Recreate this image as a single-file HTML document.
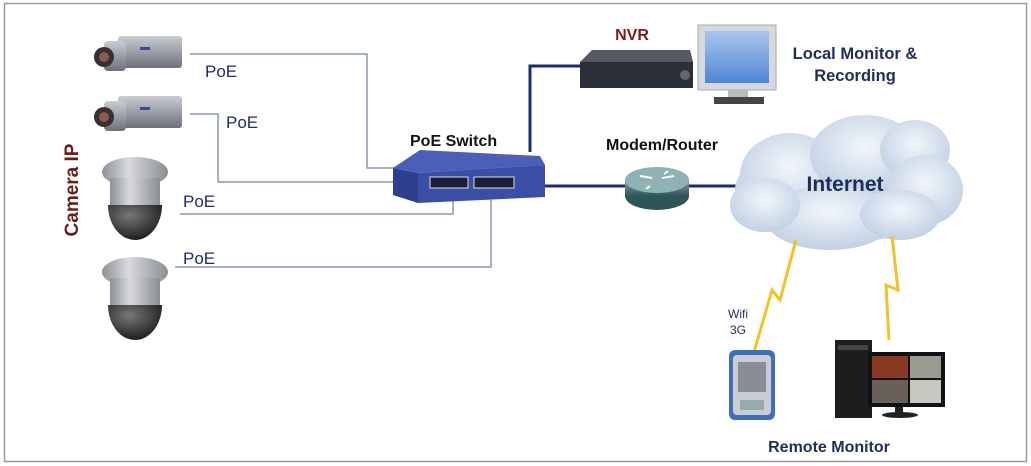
<!DOCTYPE html>
<html><head><meta charset="utf-8"><style>
html,body{margin:0;padding:0;background:#fff;}
svg{display:block;font-family:"Liberation Sans",Arial,sans-serif;}
</style></head><body>
<svg width="1031" height="466" viewBox="0 0 1031 466" xmlns="http://www.w3.org/2000/svg">
<defs>
<linearGradient id="cam" x1="0" y1="0" x2="0" y2="1"><stop offset="0" stop-color="#c9ccd2"/><stop offset="0.5" stop-color="#9a9ea6"/><stop offset="1" stop-color="#6d7078"/></linearGradient>
<linearGradient id="dome" x1="0" y1="0" x2="1" y2="0"><stop offset="0" stop-color="#8d9096"/><stop offset="0.4" stop-color="#d8dade"/><stop offset="1" stop-color="#8a8d93"/></linearGradient>
<radialGradient id="glass" cx="0.4" cy="0.3" r="0.8"><stop offset="0" stop-color="#777"/><stop offset="1" stop-color="#111"/></radialGradient>
<radialGradient id="cloud" cx="0.5" cy="0.4" r="0.7"><stop offset="0" stop-color="#f2f6fb"/><stop offset="1" stop-color="#b9cadf"/></radialGradient>
<linearGradient id="mon" x1="0" y1="0" x2="0" y2="1"><stop offset="0" stop-color="#a9c6ec"/><stop offset="1" stop-color="#4f86d6"/></linearGradient>
<linearGradient id="rt" x1="0" y1="0" x2="0" y2="1"><stop offset="0" stop-color="#7fa4a6"/><stop offset="1" stop-color="#2f5558"/></linearGradient>
</defs>
<rect x="4.5" y="3.5" width="1022" height="458" fill="#fff" stroke="#999" stroke-width="1.5"/>

<g fill="none" stroke="#8a9ab0" stroke-width="1.5">
<polyline points="190,54 367,54 367,168 398,168"/>
<polyline points="190,114 218,114 218,182 398,182"/>
<polyline points="180,214 453,214 453,195"/>
<polyline points="175,267 491,267 491,200"/>
</g>
<g font-size="17" fill="#1e2d6b">
<text x="205" y="77">PoE</text>
<text x="226" y="128">PoE</text>
<text x="183" y="207">PoE</text>
<text x="183" y="264">PoE</text>
</g>
<text transform="translate(78,190) rotate(-90)" text-anchor="middle" font-size="19" font-weight="bold" fill="#6b1c1c">Camera IP</text>

<g id="c1">
<rect x="118" y="36" width="64" height="32" rx="3" fill="url(#cam)"/>
<rect x="104" y="41" width="22" height="30" rx="4" fill="url(#cam)"/>
<circle cx="104" cy="57" r="10" fill="#3a3030"/><circle cx="104" cy="57" r="5" fill="#8a5a50"/>
<rect x="140" y="47" width="10" height="3" fill="#3a4a9a"/>
</g>
<use href="#c1" y="60"/>
<g id="d1">
<ellipse cx="135" cy="172" rx="33" ry="15" fill="url(#dome)"/>
<rect x="110" y="178" width="50" height="30" fill="url(#dome)"/>
<path d="M108,205 A27,35 0 0 0 162,205 Z" fill="url(#glass)"/>
</g>
<use href="#d1" y="100"/>

<polygon points="393,168 420,150 540,156 545,165 418,173" fill="#4a5fb5"/>
<polygon points="393,168 418,173 418,203 393,195" fill="#2f3f90"/>
<polygon points="418,173 545,165 545,197 418,203" fill="#3b4ea6"/>
<rect x="430" y="177" width="38" height="11" fill="#1a1f3a" stroke="#ddd" stroke-width="1"/>
<rect x="474" y="177" width="40" height="11" fill="#1a1f3a" stroke="#ddd" stroke-width="1"/>
<text x="410" y="146" font-size="16" font-weight="bold" fill="#111">PoE Switch</text>

<g fill="none" stroke="#1c2d6e" stroke-width="3">
<polyline points="530,152 530,66 582,66"/>
<line x1="545" y1="186" x2="627" y2="186"/>
<line x1="688" y1="186" x2="738" y2="186"/>
</g>

<polygon points="580,62 592,50 690,50 693,62" fill="#555a62"/>
<rect x="580" y="62" width="113" height="26" fill="#2b2f36"/>
<circle cx="685" cy="75" r="5" fill="#666"/>
<text x="632" y="40" text-anchor="middle" font-size="16" font-weight="bold" fill="#7a1c1c">NVR</text>

<rect x="698" y="25" width="78" height="65" fill="#d6d8de" stroke="#aaa"/>
<rect x="705" y="31" width="64" height="52" fill="url(#mon)"/>
<rect x="728" y="90" width="20" height="7" fill="#bbb"/>
<rect x="714" y="97" width="50" height="7" fill="#444"/>
<text x="855" y="59" text-anchor="middle" font-size="16.5" font-weight="bold" fill="#1e2d5a">Local Monitor &amp;</text>
<text x="855" y="81" text-anchor="middle" font-size="16.5" font-weight="bold" fill="#1e2d5a">Recording</text>

<text x="662" y="150" text-anchor="middle" font-size="16" font-weight="bold" fill="#111">Modem/Router</text>
<ellipse cx="657" cy="196" rx="32" ry="14" fill="#2f5558"/>
<rect x="625" y="180" width="64" height="16" fill="url(#rt)"/>
<ellipse cx="657" cy="180" rx="32" ry="13" fill="#8fb3b5"/>
<g stroke="#fff" stroke-width="2"><line x1="640" y1="176" x2="652" y2="178"/><line x1="662" y1="178" x2="674" y2="176"/><line x1="650" y1="186" x2="646" y2="189"/><line x1="664" y1="174" x2="668" y2="171"/></g>

<g fill="url(#cloud)">
<ellipse cx="845" cy="190" rx="110" ry="52"/>
<ellipse cx="790" cy="175" rx="50" ry="42"/>
<ellipse cx="865" cy="155" rx="55" ry="40"/>
<ellipse cx="915" cy="150" rx="35" ry="30"/>
<ellipse cx="925" cy="190" rx="38" ry="35"/>
<ellipse cx="830" cy="218" rx="65" ry="32"/>
<ellipse cx="765" cy="205" rx="35" ry="27"/>
<ellipse cx="900" cy="215" rx="40" ry="25"/>
</g>
<text x="845" y="191" text-anchor="middle" font-size="21" font-weight="bold" fill="#1e2d5a">Internet</text>

<g fill="none" stroke="#f2c22a" stroke-width="3" stroke-linejoin="miter">
<polyline points="796,240 780,300 772,290 754,352"/>
<polyline points="892,236 898,290 886,285 889,340"/>
</g>
<text x="738" y="318" text-anchor="middle" font-size="12" fill="#1e2d5a">Wifi</text>
<text x="738" y="334" text-anchor="middle" font-size="12" fill="#1e2d5a">3G</text>

<rect x="729" y="350" width="46" height="70" rx="6" fill="#3f6fb7"/>
<rect x="733" y="355" width="38" height="60" rx="4" fill="#c9cdd3"/>
<rect x="738" y="362" width="28" height="30" fill="#8a8e94"/>
<rect x="740" y="400" width="24" height="10" fill="#9aa"/>

<rect x="835" y="340" width="37" height="78" fill="#1d1d20"/>
<rect x="838" y="345" width="30" height="5" fill="#444"/>
<rect x="868" y="352" width="77" height="55" fill="#111"/>
<rect x="872" y="356" width="36" height="22" fill="#8a3a22"/>
<rect x="910" y="356" width="31" height="22" fill="#9a9a90"/>
<rect x="872" y="380" width="36" height="23" fill="#6a6058"/>
<rect x="910" y="380" width="31" height="23" fill="#c8c8c0"/>
<rect x="895" y="407" width="8" height="6" fill="#222"/>
<ellipse cx="900" cy="415" rx="18" ry="3" fill="#222"/>
<text x="829" y="452" text-anchor="middle" font-size="16" font-weight="bold" fill="#1e2d5a">Remote Monitor</text>
</svg>
</body></html>
